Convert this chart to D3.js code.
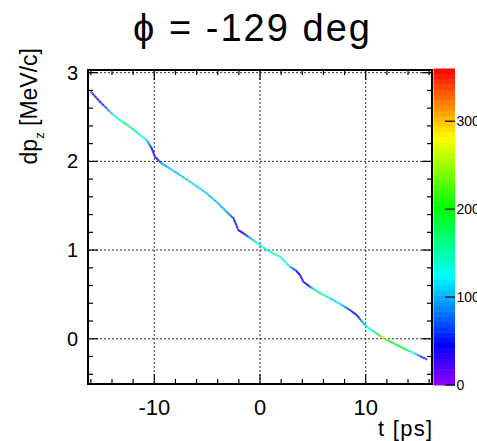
<!DOCTYPE html>
<html><head><meta charset="utf-8">
<script src="https://cdn.jsdelivr.net/npm/d3@7/dist/d3.min.js"></script>
<style>body{margin:0;background:#fff}svg{display:block}</style>
</head><body>
<script>
// ---- data ----
const tValues  = [-16.0,-15.14,-14.03,-13.2,-12.3,-11.5,-10.72,-10.25,-9.93,-9.3,-8.4,-7.57,-6.3,-5.05,-4.0,-3.15,-2.5,-2.05,-1.58,-0.8,0.0,0.8,1.89,2.84,3.4,3.78,4.1,4.73,5.6,6.62,7.6,8.51,9.15,9.78,10.1,10.9,11.67,12.6,13.56,14.7,15.77];
const dpValues = [2.785,2.672,2.541,2.46,2.39,2.31,2.24,2.147,2.05,1.977,1.91,1.846,1.745,1.64,1.53,1.43,1.357,1.225,1.19,1.125,1.056,0.99,0.925,0.812,0.77,0.718,0.643,0.586,0.52,0.455,0.39,0.324,0.267,0.174,0.135,0.07,0.005,-0.05,-0.108,-0.17,-0.232];
const phiValues = [20,30,110,150,170,140,115,50,20,90,110,100,110,105,100,95,60,20,40,100,125,140,150,110,60,30,20,60,180,110,115,60,35,100,125,160,260,180,210,110,20];
const xTicks = [-10, 0, 10];
const yTicks = [0, 1, 2, 3];
const zTicks = [0, 100, 200, 300];
const title = "\u03D5 = -129 deg";
const xTitle = "t [ps]";

// ---- layout ----
const W = 477, H = 441;
const svg = d3.select("body").append("svg").attr("width", W).attr("height", H)
  .style("font-family", "'Liberation Sans', Arial, sans-serif");
const L = 88, R = 432, T = 70, B = 384;
const x = d3.scaleLinear().domain([-16.27, 16.27]).range([L, R]);
const y = d3.scaleLinear().domain([-0.51, 3.03]).range([B, T]);
const z = d3.scaleLinear().domain([0, 360]).range([385, 68.5]);
const zColor = v => d3.hsl(275 * (1 - Math.max(0, Math.min(360, v)) / 360), 1, 0.5).toString();

// grid
const grid = svg.append("g").attr("stroke", "#333").attr("stroke-width", 1).attr("stroke-dasharray", "2,2");
xTicks.forEach(v => grid.append("line").attr("x1", x(v)).attr("x2", x(v)).attr("y1", T).attr("y2", B));
yTicks.forEach(v => grid.append("line").attr("x1", L).attr("x2", R).attr("y1", y(v)).attr("y2", y(v)));

// ticks (inside, ROOT style)
const tk = svg.append("g").attr("stroke", "#000").attr("stroke-width", 1.2);
d3.range(-16, 16.01, 2).forEach(v => {
  const major = xTicks.includes(v);
  const len = major ? 10 : 5;
  tk.append("line").attr("x1", x(v)).attr("x2", x(v)).attr("y1", B).attr("y2", B - len);
  tk.append("line").attr("x1", x(v)).attr("x2", x(v)).attr("y1", T).attr("y2", T + len);
});
d3.range(-0.4, 3.01, 0.2).forEach(v0 => {
  const v = Math.round(v0 * 10) / 10;
  const major = yTicks.includes(v);
  const len = major ? 10 : 5;
  tk.append("line").attr("x1", L).attr("x2", L + len).attr("y1", y(v)).attr("y2", y(v));
  tk.append("line").attr("x1", R).attr("x2", R - len).attr("y1", y(v)).attr("y2", y(v));
});

// data line, segment coloured
const seg = svg.append("g").attr("stroke-width", 2).attr("stroke-linecap", "round");
for (let i = 0; i < tValues.length - 1; i++) {
  const n = 4;
  for (let k = 0; k < n; k++) {
    const a = k / n, b = (k + 1) / n;
    const t1 = tValues[i] + (tValues[i+1] - tValues[i]) * a, t2 = tValues[i] + (tValues[i+1] - tValues[i]) * b;
    const d1 = dpValues[i] + (dpValues[i+1] - dpValues[i]) * a, d2 = dpValues[i] + (dpValues[i+1] - dpValues[i]) * b;
    const p = phiValues[i] + (phiValues[i+1] - phiValues[i]) * (a + b) / 2;
    seg.append("line").attr("x1", x(t1)).attr("y1", y(d1)).attr("x2", x(t2)).attr("y2", y(d2))
      .attr("stroke", zColor(p)).attr("opacity", 0.65);
  }
}

// frame
svg.append("rect").attr("x", L).attr("y", T).attr("width", R - L).attr("height", B - T)
  .attr("fill", "none").attr("stroke", "#000").attr("stroke-width", 2);

// axis labels
svg.append("g").selectAll("text").data(xTicks).join("text")
  .attr("x", d => x(d)).attr("y", 415).attr("text-anchor", "middle")
  .attr("font-size", 22).text(d => d);
svg.append("g").selectAll("text").data(yTicks).join("text")
  .attr("x", 78).attr("y", d => y(d) + 7).attr("text-anchor", "end")
  .attr("font-size", 20).text(d => d);

// titles
svg.append("text").attr("x", 133).attr("y", 41)
  .attr("font-size", 38).attr("textLength", 237).attr("lengthAdjust", "spacing").text(title);
svg.append("text").attr("x", 378).attr("y", 436)
  .attr("font-size", 22).attr("textLength", 54).attr("lengthAdjust", "spacing").text(xTitle);
const yt = svg.append("text").attr("transform", "translate(37,48) rotate(-90)")
  .attr("text-anchor", "end").attr("font-size", 23);
yt.append("tspan").text("dp");
yt.append("tspan").attr("font-size", 13).attr("dy", 7).text("z");
yt.append("tspan").attr("dy", -7).text(" [MeV/c]");

// colour bar
const nb = 60;
const cb = svg.append("g");
d3.range(nb).forEach(i => {
  const v0 = i * 360 / nb, v1 = (i + 1) * 360 / nb;
  cb.append("rect").attr("x", 433.5).attr("width", 21.5)
    .attr("y", z(v1)).attr("height", z(v0) - z(v1) + 0.5)
    .attr("fill", zColor((v0 + v1) / 2));
});
cb.append("g").attr("stroke", "#000").attr("stroke-width", 1.2).selectAll("line").data(zTicks).join("line")
  .attr("x1", 445).attr("x2", 455).attr("y1", d => z(d)).attr("y2", d => z(d));
svg.append("g").selectAll("text").data(zTicks).join("text")
  .attr("x", 456.5).attr("y", d => z(d) + 5).attr("font-size", 14).text(d => d);
</script>
</body></html>
